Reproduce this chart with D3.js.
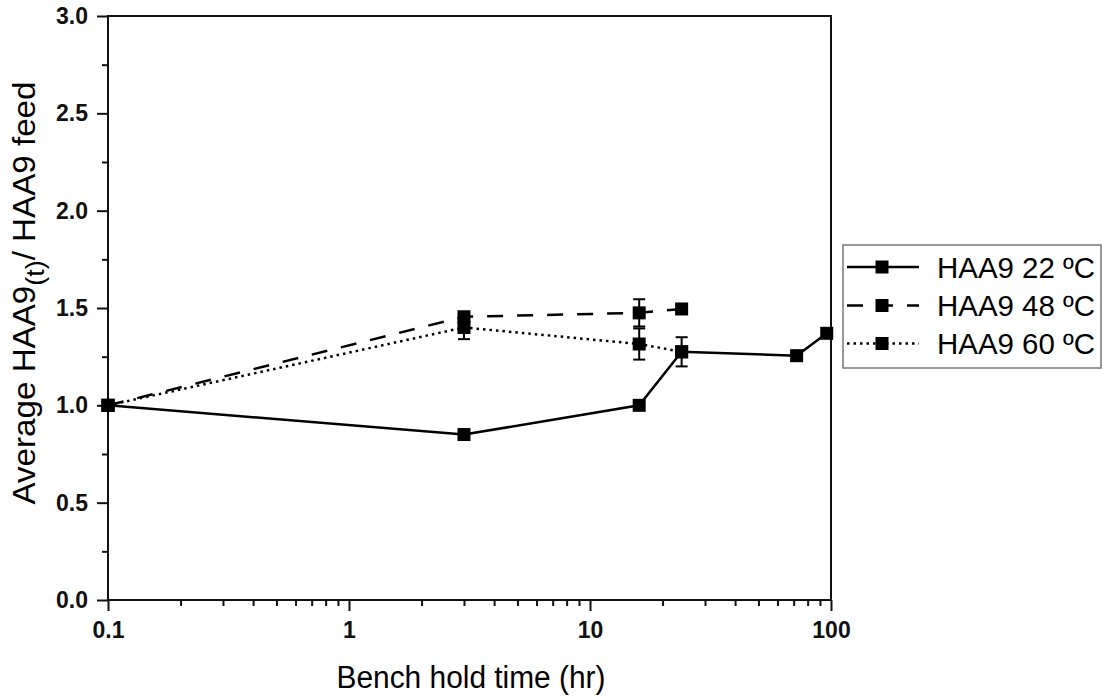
<!DOCTYPE html>
<html lang="en">
<head>
<meta charset="UTF-8">
<title>HAA9 bench hold time</title>
<script src="https://d3js.org/d3.v7.min.js"></script>
<style>
    body { margin: 0; background: #fff; }
    svg { font-family: "Liberation Sans", Arial, sans-serif; }
    .tick text { font-weight: bold; font-size: 23px; fill: #111; }
    .tick line { stroke: #111; stroke-width: 2; }
</style>
</head>
<body>
<svg width="1103" height="696"></svg>
<script>
// data
const seriesNames = ['HAA9 22 ºC', 'HAA9 48 ºC', 'HAA9 60 ºC'];
const hours22 = [0.1, 3, 16, 24, 72, 96];
const ratio22 = [1.0, 0.85, 1.0, 1.275, 1.255, 1.37];
const err22 = [0, 0, 0, 0, 0, 0];
const hours48 = [0.1, 3, 16, 24];
const ratio48 = [1.0, 1.455, 1.475, 1.495];
const err48 = [0, 0, 0.07, 0];
const hours60 = [0.1, 3, 16, 24];
const ratio60 = [1.0, 1.40, 1.315, 1.275];
const err60 = [0, 0.06, 0.08, 0.075];
const xTicks = [0.1, 1, 10, 100];
const yTicks = [0, 0.5, 1, 1.5, 2, 2.5, 3];

const svg = d3.select('svg');
const margin = { left: 108, right: 831, top: 16, bottom: 600 };

const x = d3.scaleLog().domain([0.1, 100]).range([margin.left, margin.right]);
const y = d3.scaleLinear().domain([0, 3]).range([margin.bottom, margin.top]);

const dashes = [null, '16,14', '2.5,4'];
const series = [
    { name: seriesNames[0], xs: hours22, ys: ratio22, es: err22, dash: dashes[0] },
    { name: seriesNames[1], xs: hours48, ys: ratio48, es: err48, dash: dashes[1] },
    { name: seriesNames[2], xs: hours60, ys: ratio60, es: err60, dash: dashes[2] }
];

// minor ticks
const minorX = [];
for (const d of [0.1, 1, 10]) for (let k = 2; k < 10; k++) minorX.push(d * k);
svg.append('g')
    .attr('transform', `translate(0,${margin.bottom})`)
    .call(d3.axisBottom(x).tickValues(minorX).tickSize(6).tickFormat(''))
    .call(g => g.select('.domain').remove());
svg.append('g')
    .attr('transform', `translate(${margin.left},0)`)
    .call(d3.axisLeft(y).tickValues(d3.range(0.25, 3, 0.5)).tickSize(6).tickFormat(''))
    .call(g => g.select('.domain').remove());

// major ticks
svg.append('g')
    .attr('transform', `translate(0,${margin.bottom})`)
    .call(d3.axisBottom(x).tickValues(xTicks).tickSize(11).tickPadding(11).tickFormat(d3.format('~g')))
    .call(g => g.select('.domain').remove());
svg.append('g')
    .attr('transform', `translate(${margin.left},0)`)
    .call(d3.axisLeft(y).tickValues(yTicks).tickSize(11).tickPadding(9).tickFormat(d3.format('.1f')))
    .call(g => g.select('.domain').remove());

// frame
svg.append('rect')
    .attr('x', margin.left).attr('y', margin.top)
    .attr('width', margin.right - margin.left)
    .attr('height', margin.bottom - margin.top)
    .attr('fill', 'none').attr('stroke', '#111').attr('stroke-width', 2);

const line = d3.line().x(d => x(d[0])).y(d => y(d[1]));

series.forEach(s => {
    const pts = s.xs.map((v, i) => [v, s.ys[i], s.es[i]]);
    svg.append('path')
        .datum(pts)
        .attr('d', line)
        .attr('fill', 'none')
        .attr('stroke', '#000')
        .attr('stroke-width', 2.5)
        .attr('stroke-dasharray', s.dash);

    const eb = svg.append('g').selectAll('g')
        .data(pts.filter(p => p[2] > 0))
        .join('g')
        .attr('stroke', '#000').attr('stroke-width', 2);
    eb.append('line')
        .attr('x1', d => x(d[0])).attr('x2', d => x(d[0]))
        .attr('y1', d => y(d[1] - d[2])).attr('y2', d => y(d[1] + d[2]));
    eb.append('line')
        .attr('x1', d => x(d[0]) - 6).attr('x2', d => x(d[0]) + 6)
        .attr('y1', d => y(d[1] - d[2])).attr('y2', d => y(d[1] - d[2]));
    eb.append('line')
        .attr('x1', d => x(d[0]) - 6).attr('x2', d => x(d[0]) + 6)
        .attr('y1', d => y(d[1] + d[2])).attr('y2', d => y(d[1] + d[2]));

    svg.append('g').selectAll('rect')
        .data(pts)
        .join('rect')
        .attr('x', d => x(d[0]) - 6.5)
        .attr('y', d => y(d[1]) - 6.5)
        .attr('width', 13).attr('height', 13)
        .attr('fill', '#000');
});

// axis titles
svg.append('text')
    .attr('x', 471).attr('y', 688)
    .attr('text-anchor', 'middle')
    .attr('font-size', 31)
    .attr('textLength', 269)
    .attr('lengthAdjust', 'spacingAndGlyphs')
    .text('Bench hold time (hr)');

const yl = svg.append('text')
    .attr('transform', 'translate(35,293) rotate(-90)')
    .attr('text-anchor', 'middle')
    .attr('font-size', 32)
    .attr('textLength', 423)
    .attr('lengthAdjust', 'spacingAndGlyphs');
yl.append('tspan').text('Average HAA9');
yl.append('tspan').attr('dy', 9).attr('font-size', 26).text('(t)');
yl.append('tspan').attr('dy', -9).text('/ HAA9 feed');

// legend
const legend = svg.append('g');
legend.append('rect')
    .attr('x', 843).attr('y', 245).attr('width', 258).attr('height', 123)
    .attr('fill', '#fff').attr('stroke', '#777').attr('stroke-width', 1.5);
const rowY = [267, 305.5, 343.5];
series.forEach((s, i) => {
    legend.append('line')
        .attr('x1', 847).attr('x2', 919)
        .attr('y1', rowY[i]).attr('y2', rowY[i])
        .attr('stroke', '#000').attr('stroke-width', 2.5)
        .attr('stroke-dasharray', s.dash);
    legend.append('rect')
        .attr('x', 882 - 6.5).attr('y', rowY[i] - 6.5)
        .attr('width', 13).attr('height', 13).attr('fill', '#000');
    legend.append('text')
        .attr('x', 937).attr('y', rowY[i] + 10.5)
        .attr('font-size', 29)
        .attr('textLength', 158)
        .attr('lengthAdjust', 'spacingAndGlyphs')
        .text(s.name);
});
</script>
</body>
</html>
